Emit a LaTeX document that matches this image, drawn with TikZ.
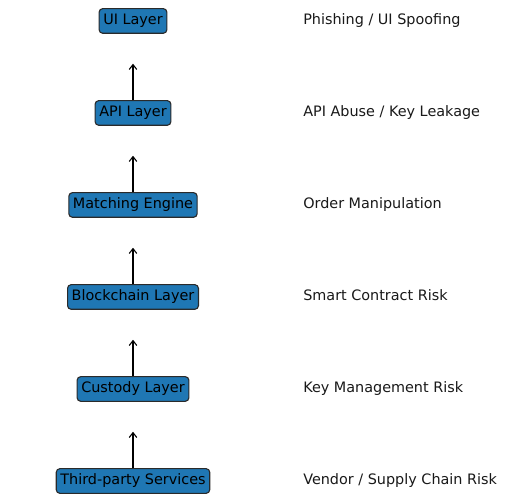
\documentclass[tikz,border=0pt]{standalone}
\usepackage{fontspec}
\setmainfont{DejaVu Sans}
\usetikzlibrary{
  arrows.meta,
  positioning
}
\definecolor{LayerBlue}{HTML}{1F77B4}
\definecolor{EdgeDark}{HTML}{2A2A2A}
\tikzset{
  layer/.style={draw=EdgeDark,fill=LayerBlue,rounded corners=2.6pt,line width=0.8pt,inner xsep=3pt,inner ysep=3.2pt,text height=8pt,text depth=3.4pt,font=\fontsize{10.4pt}{12pt}\selectfont},
  risk/.style={anchor=west,inner sep=0pt,text height=7.6pt,text depth=2.6pt,font=\fontsize{10.4pt}{12pt}\selectfont,text=black!90},
  flow/.style={-{Straight Barb[length=3.5pt,width=5.5pt]},line width=0.8pt,shorten >=7.6mm}
}

\begin{document}
\begin{tikzpicture}[x=0.254mm, y=-0.254mm, node distance=23.37mm, on grid]
\useasboundingbox (0,0) rectangle (508,501);

\node[layer] (tp) at (133,481) {Third-party Services};
\node[layer, above=of tp] (cu) {Custody Layer};
\node[layer, above=of cu] (bc) {Blockchain Layer};
\node[layer, above=of bc] (me) {Matching Engine};
\node[layer, above=of me] (api) {API Layer};
\node[layer, above=of api] (ui) {UI Layer};

\node[risk] (tpRisk) at (303,481) {Vendor / Supply Chain Risk};
\node[risk] (cuRisk) at (303,389) {Key Management Risk};
\node[risk] (bcRisk) at (303,297) {Smart Contract Risk};
\node[risk] (meRisk) at (303,205) {Order Manipulation};
\node[risk] (apiRisk) at (303,113) {API Abuse / Key Leakage};
\node[risk] (uiRisk) at (303,21) {Phishing / UI Spoofing};

\draw[flow] (tp) -- (cu);
\draw[flow] (cu) -- (bc);
\draw[flow] (bc) -- (me);
\draw[flow] (me) -- (api);
\draw[flow] (api) -- (ui);
\end{tikzpicture}
\end{document}
